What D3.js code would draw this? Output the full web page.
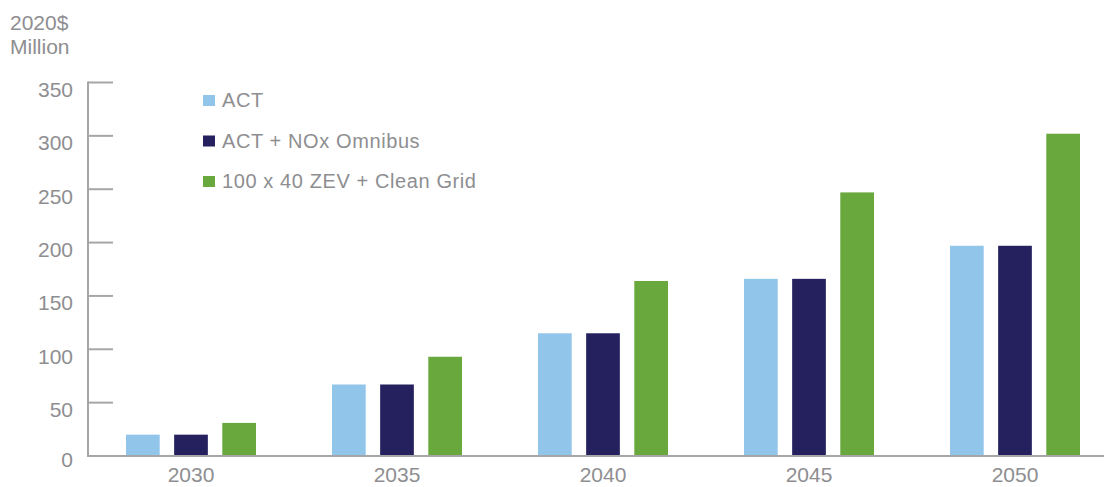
<!DOCTYPE html>
<html>
<head>
<meta charset="utf-8">
<script src="https://cdn.jsdelivr.net/npm/d3@7"></script>
<style>
  body { margin: 0; background: #fff; }
  svg { display: block; font-family: "Liberation Sans", Arial, sans-serif; }
  .lbl { fill: #8e8e91; }
</style>
</head>
<body>
<svg class="chart"></svg>
<script>
// chart values
const years = ['2030', '2035', '2040', '2045', '2050']
const seriesNames = ['ACT', 'ACT + NOx Omnibus', '100 x 40 ZEV + Clean Grid']
const actValues = [20, 67, 115, 166, 197]
const noxValues = [20, 67, 115, 166, 197]
const zevValues = [31, 93, 164, 247, 302]
const yTicks = [0, 50, 100, 150, 200, 250, 300, 350]
const colors = ['#92c5ea', '#25215f', '#68a83c']

const width = 1104
const height = 487

const svg = d3.select('.chart')
    .attr('width', width)
    .attr('height', height)

const allSeries = [actValues, noxValues, zevValues]

// scales
const x = d3.scaleBand()
    .domain(years)
    .range([88, 1118])

// position of each series inside a year group, relative to the group centre
const xInner = d3.scaleBand()
    .domain(seriesNames)
    .range([-65, 65])
    .paddingInner(0.3)

const y = d3.scaleLinear()
    .domain([0, 350])
    .range([456, 82.5])

// y axis line + ticks
const gray = '#a6a6a8'
svg.append('line')
    .attr('x1', 88).attr('x2', 88)
    .attr('y1', y(350) - 1).attr('y2', y(0))
    .attr('stroke', gray).attr('stroke-width', 2)

svg.selectAll('.ytick')
    .data(yTicks.slice(1))
    .enter()
    .append('line')
    .attr('x1', 88).attr('x2', 113)
    .attr('y1', d => y(d)).attr('y2', d => y(d))
    .attr('stroke', gray).attr('stroke-width', 2)

svg.selectAll('.ylab')
    .data(yTicks)
    .enter()
    .append('text')
    .attr('class', 'lbl')
    .attr('x', 73)
    .attr('y', d => y(d) + (d === 0 ? 11 : 14.5))
    .attr('text-anchor', 'end')
    .attr('font-size', 21)
    .text(d => d)

// bars
years.forEach((yr, i) => {
    const cx = x(yr) + x.bandwidth() / 2
    allSeries.forEach((vals, s) => {
        svg.append('rect')
            .attr('x', cx + xInner(seriesNames[s]))
            .attr('y', y(vals[i]))
            .attr('width', xInner.bandwidth())
            .attr('height', y(0) - y(vals[i]))
            .attr('fill', colors[s])
    })
})

// baseline
svg.append('line')
    .attr('x1', 87).attr('x2', width)
    .attr('y1', y(0)).attr('y2', y(0))
    .attr('stroke', gray).attr('stroke-width', 2)

// x labels (kept just inside the bottom edge)
svg.selectAll('.xlab')
    .data(years)
    .enter()
    .append('text')
    .attr('class', 'lbl')
    .attr('x', d => x(d) + x.bandwidth() / 2)
    .attr('y', 481.5)
    .attr('text-anchor', 'middle')
    .attr('font-size', 21)
    .text(d => d)

// unit label
svg.append('text').attr('class', 'lbl')
    .attr('x', 10).attr('y', 30).attr('font-size', 21).text('2020$')
svg.append('text').attr('class', 'lbl')
    .attr('x', 10).attr('y', 54).attr('font-size', 21).text('Million')

// legend
const legend = svg.selectAll('.leg')
    .data(seriesNames)
    .enter()
    .append('g')
    .attr('transform', (d, i) => `translate(203, ${100 + i * 40.5})`)

legend.append('rect')
    .attr('x', 0).attr('y', -5)
    .attr('width', 12).attr('height', 11)
    .attr('fill', (d, i) => colors[i])

legend.append('text')
    .attr('class', 'lbl')
    .attr('x', 19).attr('y', 7)
    .attr('font-size', 20)
    .attr('letter-spacing', 0.6)
    .text(d => d)
</script>
</body>
</html>
